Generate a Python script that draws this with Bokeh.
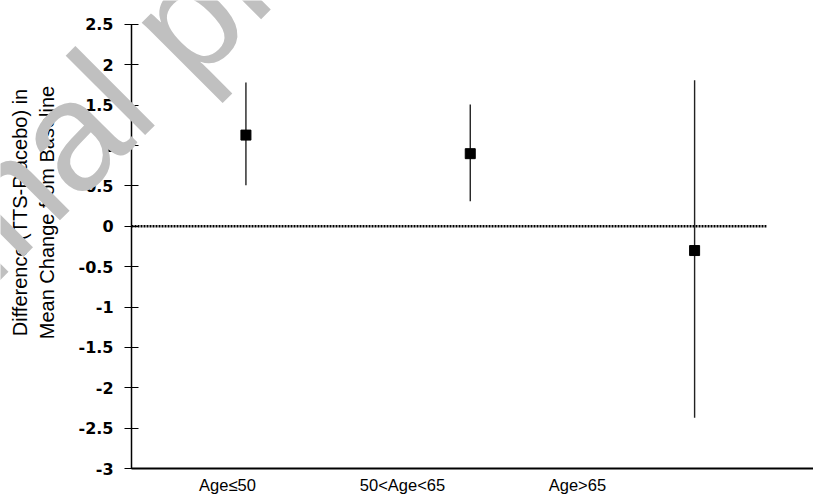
from bokeh.plotting import figure
from bokeh.models import Range1d, LinearAxis, FixedTicker, NumeralTickFormatter, Label
from bokeh.embed import file_html
from bokeh.resources import INLINE
import numpy as np

# ---- data ----
categories = ["Age\u226450", "50<Age<65", "Age>65"]
mean_diff = [1.13, 0.90, -0.30]
ci_lower = [0.51, 0.31, -2.37]
ci_upper = [1.78, 1.51, 1.81]
y_ticks = [-3, -2.5, -2, -1.5, -1, -0.5, 0, 0.5, 1, 1.5, 2, 2.5]
y_title = "Difference (TTS-Placebo) in\nMean Change from Baseline"
watermark = "Final product"

x_pos = np.arange(1, len(categories) + 1)

# ---- layout constants (axes are drawn at fixed locations inside a full-canvas frame) ----
X_LO, X_HI = 0.49, 3.53          # extent of the x axis line
Y_LO, Y_HI = -3, 2.5             # extent of the y axis
ZERO_END = 3.32                  # right end of the dotted zero line

p = figure(width=813, height=495, output_backend="svg", toolbar_location=None,
           x_range=Range1d(-0.094, 3.53), y_range=Range1d(-3.334, 2.797),
           min_border_left=0, min_border_right=0, min_border_top=0, min_border_bottom=0)
p.outline_line_color = None
p.grid.visible = False
p.background_fill_color = "white"
p.border_fill_color = "white"

# main x axis: line only
xmain = p.xaxis[0]
xmain.fixed_location = Y_LO
xmain.bounds = (X_LO, X_HI)
xmain.major_tick_line_color = None
xmain.minor_tick_line_color = None
xmain.major_label_text_color = None
xmain.axis_line_color = "black"
xmain.axis_line_width = 2

# category label axis on its own range
p.extra_x_ranges = {"labels": Range1d(-0.297, 4.349)}
xlab = LinearAxis(x_range_name="labels", ticker=FixedTicker(ticks=list(range(1, len(categories) + 1))),
                  major_label_overrides={i + 1: c for i, c in enumerate(categories)})
xlab.fixed_location = Y_LO
xlab.axis_line_color = None
xlab.major_tick_line_color = None
xlab.minor_tick_line_color = None
xlab.major_tick_out = 0
xlab.major_tick_in = 0
xlab.major_label_standoff = 7
xlab.major_label_text_font = "Liberation Sans"
xlab.major_label_text_font_size = "16.5px"
xlab.major_label_text_color = "black"
p.add_layout(xlab, "below")

yax = p.yaxis[0]
yax.fixed_location = X_LO
yax.bounds = (Y_LO, Y_HI)
yax.ticker = FixedTicker(ticks=y_ticks)
yax.formatter = NumeralTickFormatter(format="0.[0]")
yax.minor_tick_line_color = None
yax.major_tick_in = 7
yax.major_tick_out = 7
yax.major_tick_line_color = "black"
yax.major_tick_line_width = 1
yax.axis_line_color = "black"
yax.axis_line_width = 1.5
yax.major_label_standoff = 11
yax.major_label_text_font = "DejaVu Sans"
yax.major_label_text_font_style = "bold"
yax.major_label_text_font_size = "16px"
yax.major_label_text_color = "black"

# zero reference line
p.line(x=[X_LO, ZERO_END], y=[0, 0], line_color="black", line_width=2.5, line_dash="2 1")

# error bars and points
p.segment(x0=x_pos, x1=x_pos, y0=ci_lower, y1=ci_upper, line_color="#222222", line_width=1.4)
p.scatter(x=x_pos, y=mean_diff, marker="square", size=10, fill_color="black", line_color="black")

# y axis title
p.add_layout(Label(x=33, y=283, x_units="screen", y_units="screen", text=y_title,
                   angle=90, angle_units="deg", text_align="center", text_baseline="middle",
                   text_font="Liberation Sans", text_font_size="20px", text_color="black",
                   text_line_height=1.25))

# watermark
p.add_layout(Label(x=0.811, y=2.79, text=watermark, angle=45, angle_units="deg",
                   text_align="center", text_baseline="middle",
                   text_font="Liberation Sans", text_font_size="155px", text_color="#c0c0c0"))

open("out.html", "w").write(file_html(p, INLINE))
